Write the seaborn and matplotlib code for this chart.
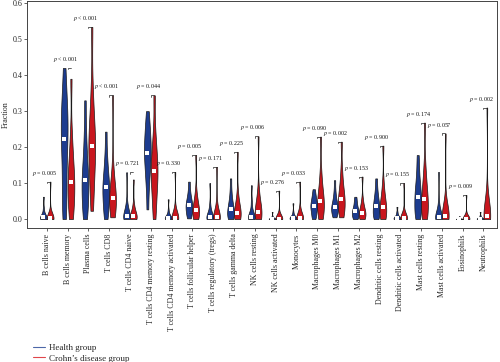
import matplotlib
matplotlib.use("Agg")
import matplotlib.pyplot as plt
from matplotlib.lines import Line2D
import seaborn as sns
import pandas as pd
import numpy as np

cell_types = [
    "B cells naive", "B cells memory", "Plasma cells", "T cells CD8",
    "T cells CD4 naive", "T cells CD4 memory resting", "T cells CD4 memory activated",
    "T cells follicular helper", "T cells regulatory (tregs)", "T cells gamma delta",
    "NK cells resting", "NK cells activated", "Monocytes", "Macrophages M0",
    "Macrophages M1", "Macrophages M2", "Dendritic cells resting",
    "Dendritic cells activated", "Mast cells resting", "Mast cells activated",
    "Eosinophils", "Neutrophils",
]

p_labels = [
    "= 0.005", "< 0.001", "< 0.001", "< 0.001", "= 0.721", "= 0.044", "= 0.330",
    "= 0.005", "= 0.171", "= 0.225", "= 0.006", "= 0.276", "= 0.033", "= 0.090",
    "= 0.002", "= 0.153", "= 0.900", "= 0.155", "= 0.174", "= 0.057", "= 0.009",
    "= 0.002",
]

groups = ["Health group", "Crohn\u2019s disease group"]

# representative fractions per cell type
health_values = [
    [0, 0, 0, 0.001, 0.003, 0.005, 0.007, 0.010, 0.015, 0.030, 0.062],
    [0, 0.04, 0.09, 0.14, 0.19, 0.222, 0.25, 0.28, 0.31, 0.35, 0.42],
    [0, 0.02, 0.045, 0.07, 0.09, 0.108, 0.125, 0.15, 0.19, 0.24, 0.33],
    [0, 0.02, 0.04, 0.06, 0.077, 0.088, 0.10, 0.12, 0.145, 0.18, 0.243],
    [0, 0, 0.001, 0.003, 0.005, 0.008, 0.012, 0.018, 0.027, 0.045, 0.13],
    [0.027, 0.09, 0.12, 0.15, 0.17, 0.184, 0.20, 0.22, 0.24, 0.265, 0.30],
    [0, 0, 0, 0.001, 0.002, 0.003, 0.005, 0.008, 0.012, 0.025, 0.055],
    [0.002, 0.010, 0.018, 0.026, 0.033, 0.038, 0.044, 0.052, 0.062, 0.078, 0.104],
    [0, 0, 0.001, 0.002, 0.004, 0.005, 0.008, 0.012, 0.020, 0.040, 0.10],
    [0, 0.003, 0.008, 0.015, 0.022, 0.028, 0.035, 0.045, 0.058, 0.080, 0.113],
    [0, 0, 0.001, 0.002, 0.004, 0.005, 0.009, 0.015, 0.025, 0.050, 0.094],
    [0, 0, 0, 0, 0, 0.001, 0.001, 0.002, 0.004, 0.008, 0.020],
    [0, 0, 0, 0.001, 0.002, 0.003, 0.004, 0.006, 0.010, 0.020, 0.044],
    [0, 0.008, 0.017, 0.026, 0.032, 0.037, 0.042, 0.050, 0.058, 0.068, 0.083],
    [0.005, 0.012, 0.018, 0.025, 0.030, 0.034, 0.040, 0.048, 0.060, 0.078, 0.108],
    [0, 0.004, 0.008, 0.013, 0.018, 0.022, 0.026, 0.032, 0.040, 0.050, 0.062],
    [0, 0.006, 0.012, 0.020, 0.028, 0.036, 0.044, 0.054, 0.066, 0.085, 0.113],
    [0, 0, 0, 0.001, 0.002, 0.003, 0.005, 0.008, 0.012, 0.020, 0.034],
    [0, 0.010, 0.022, 0.036, 0.050, 0.062, 0.075, 0.090, 0.110, 0.140, 0.178],
    [0, 0, 0.001, 0.002, 0.004, 0.005, 0.008, 0.013, 0.022, 0.045, 0.131],
    [0, 0, 0, 0, 0, 0, 0.001, 0.001, 0.002, 0.004, 0.008],
    [0, 0, 0, 0, 0.001, 0.001, 0.002, 0.003, 0.005, 0.010, 0.020],
]

crohn_values = [
    [0, 0, 0, 0, 0.001, 0.002, 0.003, 0.005, 0.008, 0.020, 0.104],
    [0, 0.02, 0.045, 0.07, 0.09, 0.104, 0.12, 0.145, 0.18, 0.23, 0.39],
    [0.023, 0.08, 0.12, 0.16, 0.185, 0.204, 0.225, 0.25, 0.29, 0.36, 0.534],
    [0.005, 0.02, 0.03, 0.042, 0.052, 0.059, 0.068, 0.08, 0.10, 0.14, 0.344],
    [0, 0, 0.001, 0.003, 0.005, 0.008, 0.011, 0.016, 0.025, 0.040, 0.11],
    [0, 0.04, 0.07, 0.10, 0.12, 0.133, 0.15, 0.17, 0.20, 0.24, 0.344],
    [0, 0, 0, 0, 0.001, 0.002, 0.004, 0.007, 0.012, 0.030, 0.131],
    [0, 0.005, 0.010, 0.015, 0.020, 0.025, 0.031, 0.040, 0.052, 0.075, 0.178],
    [0, 0, 0.001, 0.002, 0.004, 0.005, 0.008, 0.013, 0.022, 0.045, 0.145],
    [0, 0.002, 0.005, 0.009, 0.014, 0.018, 0.024, 0.032, 0.045, 0.070, 0.187],
    [0, 0.002, 0.005, 0.010, 0.015, 0.020, 0.026, 0.035, 0.050, 0.080, 0.23],
    [0, 0, 0, 0, 0, 0.001, 0.002, 0.003, 0.006, 0.015, 0.079],
    [0, 0, 0, 0.001, 0.002, 0.003, 0.005, 0.008, 0.014, 0.030, 0.104],
    [0, 0.010, 0.020, 0.032, 0.043, 0.051, 0.060, 0.075, 0.095, 0.130, 0.229],
    [0.005, 0.015, 0.025, 0.038, 0.048, 0.056, 0.065, 0.080, 0.100, 0.135, 0.215],
    [0, 0.003, 0.006, 0.010, 0.014, 0.018, 0.022, 0.028, 0.038, 0.055, 0.118],
    [0, 0.005, 0.010, 0.018, 0.026, 0.034, 0.042, 0.054, 0.070, 0.100, 0.204],
    [0, 0, 0, 0, 0.001, 0.002, 0.003, 0.005, 0.009, 0.020, 0.10],
    [0, 0.008, 0.018, 0.030, 0.044, 0.056, 0.070, 0.088, 0.110, 0.150, 0.268],
    [0, 0.001, 0.002, 0.004, 0.007, 0.009, 0.012, 0.017, 0.026, 0.050, 0.238],
    [0, 0, 0, 0, 0, 0.001, 0.001, 0.002, 0.004, 0.012, 0.067],
    [0, 0, 0.001, 0.002, 0.004, 0.008, 0.012, 0.018, 0.030, 0.070, 0.31],
]

blue = "#1d3c8f"
red = "#c8161e"

rows = []
for cell, hv, cv in zip(cell_types, health_values, crohn_values):
    for v in hv:
        rows.append((cell, groups[0], v))
    for v in cv:
        rows.append((cell, groups[1], v))
df = pd.DataFrame(rows, columns=["cell", "group", "fraction"])

sns.set_style("ticks")
plt.rcParams["font.family"] = ["Liberation Serif", "DejaVu Serif"]
plt.rcParams["mathtext.fontset"] = "stix"

fig = plt.figure(figsize=(5, 3.62), dpi=100)
ax = fig.add_axes([0.054, 0.37, 0.94, 0.627])

width = 0.65
sns.violinplot(
    data=df, x="cell", y="fraction", hue="group", order=cell_types,
    hue_order=groups, palette=[blue, red], cut=0, inner=None, width=width,
    density_norm="width", linewidth=0.5, linecolor="#1a1a1a", saturation=1,
    bw_adjust=0.7, legend=False, ax=ax,
)
sns.pointplot(
    data=df, x="cell", y="fraction", hue="group", order=cell_types,
    hue_order=groups, estimator="median", errorbar=None, dodge=width / 2,
    linestyle="none", markers="s", markersize=2.4, markeredgewidth=0,
    palette=["white", "white"], legend=False, ax=ax,
)

# significance brackets
maxes = df.groupby("cell")["fraction"].max()
for i, (cell, lab) in enumerate(zip(cell_types, p_labels)):
    ymax = maxes[cell]
    ax.plot([i, i, i + width / 4], [ymax - 0.004, ymax, ymax],
            color="#222222", lw=0.5)
    ax.text(i - 0.12, ymax + 0.011, f"$p$ {lab}", ha="center", va="bottom",
            fontsize=4.3, color="#111111")

ax.set_xlim(-0.95, 21.65)
ax.set_ylim(-0.025, 0.606)
ax.set_yticks([0, 0.1, 0.2, 0.3, 0.4, 0.5, 0.6])
ax.set_yticklabels(["0.0", "0.1", "0.2", "0.3", "0.4", "0.5", "0.6"])
ax.set_xlabel("")
ax.set_ylabel("Fraction", fontsize=5.8, labelpad=2)
ax.tick_params(axis="x", labelsize=5.7, rotation=90, length=2, width=0.5, pad=2)
ax.tick_params(axis="y", labelsize=5.8, length=2, width=0.5, pad=1.5)
for s in ax.spines.values():
    s.set_visible(True)
    s.set_linewidth(0.7)
    s.set_color("#444444")

handles = [Line2D([0], [0], color="#4d68a8", lw=0.8),
           Line2D([0], [0], color="#e0464b", lw=0.8)]
fig.legend(handles, groups, loc="upper left", bbox_to_anchor=(0.056, 0.062),
           frameon=False, fontsize=6.5, handlelength=1.4, handletextpad=0.4,
           labelspacing=0.2, borderpad=0)

fig.savefig("out.png", dpi=100)
